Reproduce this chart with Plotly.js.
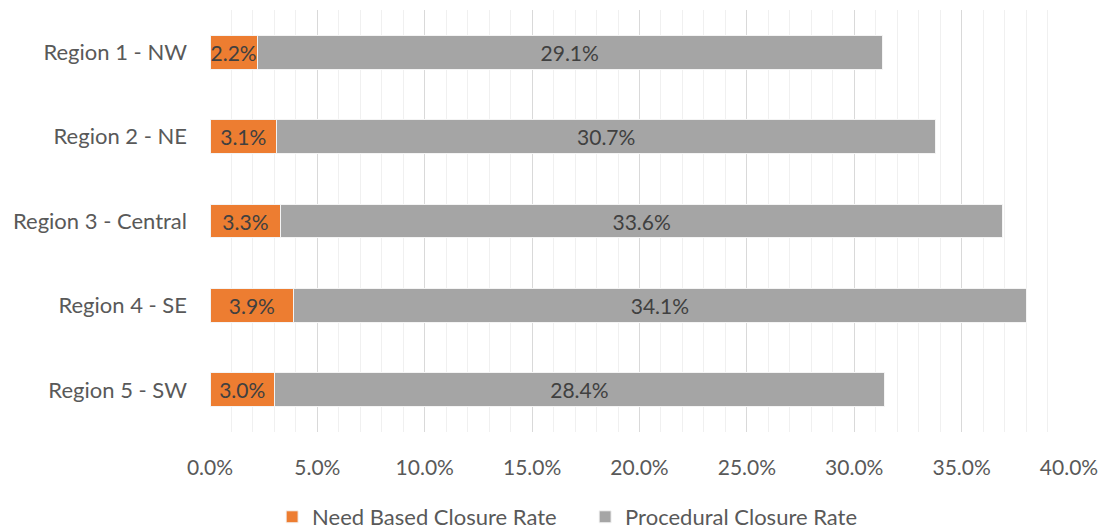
<!DOCTYPE html>
<html>
<head>
<meta charset="utf-8">
<script src="https://cdn.plot.ly/plotly-3.0.1.min.js"></script>
<style>html,body{margin:0;padding:0;background:#fff;}#chart{width:1104px;height:531px;}</style>
</head>
<body>
<div id="chart"></div>
<script>
const regions = ["Region 1 - NW", "Region 2 - NE", "Region 3 - Central", "Region 4 - SE", "Region 5 - SW"];
const needBased = [2.2, 3.1, 3.3, 3.9, 3.0];
const procedural = [29.1, 30.7, 33.6, 34.1, 28.4];
const seriesNames = ["Need Based Closure Rate", "Procedural Closure Rate"];
const tickVals = [0, 5, 10, 15, 20, 25, 30, 35, 40];

const font = "Lato, 'Open Sans', sans-serif";
const common = {
  type: 'bar', orientation: 'h', y: regions,
  textposition: 'inside', insidetextanchor: 'middle', constraintext: 'none',
  texttemplate: '%{x:.1f}%',
  textfont: {family: font, size: 21, color: '#404040'},
  hoverinfo: 'skip'
};
const data = [
  Object.assign({}, common, {x: needBased, name: seriesNames[0], marker: {color: '#ED7D31', line: {color: '#f4f4f4', width: 1}}}),
  Object.assign({}, common, {x: procedural, name: seriesNames[1], marker: {color: '#A5A5A5', line: {color: '#f4f4f4', width: 1}}})
];
const layout = {
  width: 1104, height: 531,
  margin: {l: 210, r: 35, t: 10, b: 99, autoexpand: false},
  barmode: 'stack', bargap: 0.6,
  paper_bgcolor: '#fff', plot_bgcolor: '#fff',
  font: {family: font, color: '#595959', size: 21},
  showlegend: true,
  legend: {orientation: 'h', xref: 'container', x: 0.530, xanchor: 'center', yref: 'paper', y: -0.2014, yanchor: 'middle', font: {size: 22, color: '#595959'}, itemwidth: 30, entrywidth: 268, traceorder: 'normal'},
  xaxis: {
    range: [0, 40], tickvals: tickVals, ticktext: tickVals.map(v => v.toFixed(1) + '%'),
    showgrid: true, gridcolor: '#d9d9d9', gridwidth: 1,
    minor: {dtick: 1, showgrid: true, gridcolor: '#f0f0f0', gridwidth: 1},
    zeroline: false, showline: false, ticks: '', ticklabelstandoff: 21,
    tickfont: {size: 21, color: '#595959'}, fixedrange: true
  },
  yaxis: {
    autorange: 'reversed', showgrid: false, zeroline: false, showline: false, ticks: '',
    ticklabelstandoff: 22, tickfont: {size: 22, color: '#595959'}, fixedrange: true
  }
};
Plotly.newPlot('chart', data, layout, {staticPlot: true, displayModeBar: false});
</script>
</body>
</html>
